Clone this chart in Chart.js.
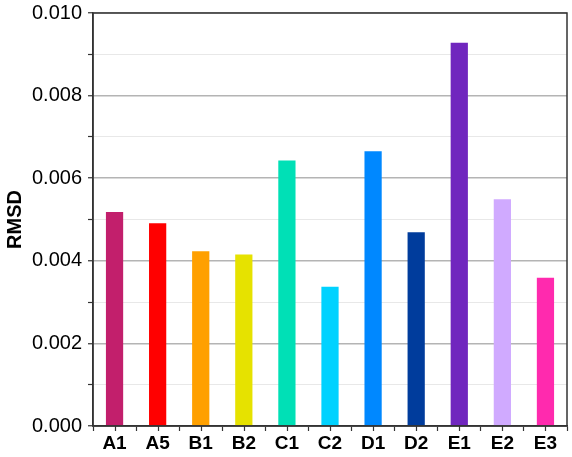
<!DOCTYPE html>
<html>
<head>
<meta charset="utf-8">
<script src="https://cdn.jsdelivr.net/npm/chart.js@4"></script>
<style>
  html, body { margin: 0; padding: 0; background: #fff; }
  #wrap { width: 572px; height: 457px; }
</style>
</head>
<body>
<div id="wrap"><canvas id="chart"></canvas></div>
<script>
    const labels = ["A1", "A5", "B1", "B2", "C1", "C2", "D1", "D2", "E1", "E2", "E3"];
    const rmsd = [0.00518, 0.00491, 0.00423, 0.00415, 0.00643, 0.00337, 0.00665, 0.00469, 0.00928, 0.00549, 0.00359];
    const barColors = ["#c21f6c", "#ff0000", "#ffa000", "#e6e200", "#00e0b6", "#00d2ff", "#0088ff", "#003c9c", "#7026be", "#d0aaff", "#ff2aae"];
    const yTicks = [0, 0.001, 0.002, 0.003, 0.004, 0.005, 0.006, 0.007, 0.008, 0.009, 0.010];

    const isMajor = (v) => Math.round(v * 1000) % 2 === 0;
    const font = "'Liberation Sans', Arial, Helvetica, sans-serif";

    // frame round the plot and the tick marks at bar centres
    const framePlugin = {
        id: "frame",
        afterDraw(chart) {
            const { ctx, chartArea: a, scales } = chart;
            ctx.save();
            ctx.strokeStyle = "#333";
            ctx.lineWidth = 1.5;
            ctx.strokeRect(a.left, a.top, a.right - a.left, a.bottom - a.top);
            ctx.lineWidth = 1.2;
            ctx.beginPath();
            labels.forEach((_, i) => {
                const x = Math.round(scales.x.getPixelForValue(i)) + 0.5;
                ctx.moveTo(x, a.bottom);
                ctx.lineTo(x, a.bottom + 5);
            });
            ctx.stroke();
            ctx.restore();
        },
    };

    new Chart(document.getElementById("chart"), {
        type: "bar",
        data: { labels, datasets: [{ data: rmsd, backgroundColor: barColors, barPercentage: 0.4, categoryPercentage: 1 }] },
        options: {
            responsive: true,
            maintainAspectRatio: false,
            animation: false,
            layout: { padding: { top: 13, right: 5, left: 3, bottom: 0 } },
            plugins: { legend: { display: false }, tooltip: { enabled: false } },
            scales: {
                x: {
                    offset: true,
                    grid: { offset: true, drawOnChartArea: false, tickLength: 5, tickColor: "#333", tickWidth: 1.2 },
                    border: { color: "#333", width: 1.5 },
                    ticks: { color: "#000", font: { family: font, size: 19, weight: "bold" }, padding: 1 },
                    afterFit: (s) => { s.height = 31; },
                },
                y: {
                    min: 0,
                    max: 0.010,
                    afterBuildTicks: (s) => { s.ticks = yTicks.map((v) => ({ value: v })); },
                    grid: {
                        color: (c) => (c.tick && isMajor(c.tick.value) ? "#b4b4b4" : "#e8e8e8"),
                        lineWidth: (c) => (c.tick && isMajor(c.tick.value) ? 1.5 : 1),
                        tickLength: 5,
                        tickColor: "#333",
                        tickWidth: 1.2,
                    },
                    border: { color: "#333", width: 1.5 },
                    ticks: {
                        color: "#000",
                        autoSkip: false,
                        font: { family: font, size: 20 },
                        padding: 6,
                        callback: (v) => (isMajor(v) ? Number(v).toFixed(3) : ""),
                    },
                    title: { display: true, text: "RMSD", color: "#000", font: { family: font, size: 20, weight: "bold" }, padding: 0 },
                    afterFit: (s) => { s.width = 90; s.paddingTop = 0; s.paddingBottom = 0; },
                },
            },
        },
        plugins: [framePlugin],
    });
</script>
</body>
</html>
